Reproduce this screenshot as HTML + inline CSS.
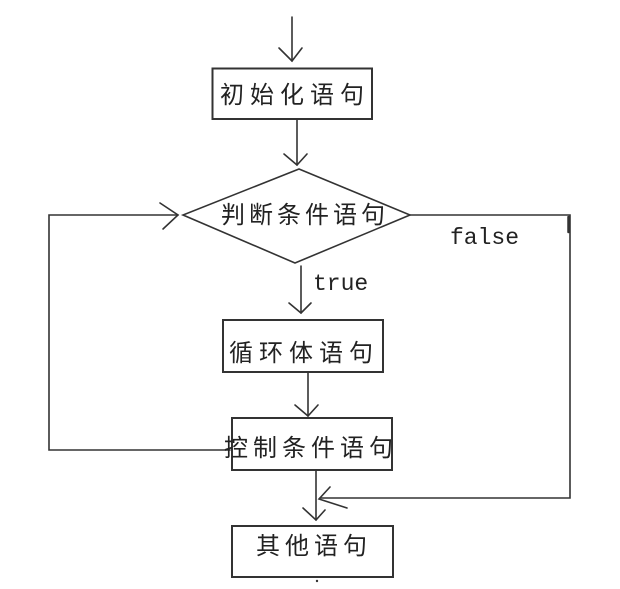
<!DOCTYPE html>
<html>
<head>
<meta charset="utf-8">
<style>
html,body{margin:0;padding:0;background:#fff;}
svg{display:block;}
.cjk{font-family:"Liberation Sans","Noto Sans CJK SC","WenQuanYi Zen Hei",sans-serif;font-size:24px;fill:#222;}
.mono{font-family:"Liberation Mono",monospace;font-size:23px;fill:#222;}
</style>
</head>
<body>
<svg width="620" height="589" viewBox="0 0 620 589" xmlns="http://www.w3.org/2000/svg">
<rect width="620" height="589" fill="#fff"/>
<g fill="none" stroke="#333" stroke-width="1.6" stroke-linecap="round" stroke-linejoin="miter">
  <!-- top arrow -->
  <line x1="292" y1="17" x2="292" y2="61"/>
  <polyline points="279,48 292,61 302,48"/>
  <!-- box 1 -->
  <rect x="212.5" y="68.5" width="159.5" height="50.5" stroke-width="2"/>
  <!-- arrow 2 -->
  <line x1="297" y1="120" x2="297" y2="165"/>
  <polyline points="284,154 297,165 307,154"/>
  <!-- diamond -->
  <polygon points="299,169 410,215 295,263 183,215"/>
  <!-- left loop -->
  <polyline points="230,450 49,450 49,215 178,215"/>
  <polyline points="160,203 178,215 163,229"/>
  <!-- true arrow -->
  <line x1="301" y1="266" x2="301" y2="313"/>
  <polyline points="289,303 301,313 311,303"/>
  <!-- box 3 -->
  <rect x="223" y="320" width="160" height="52" stroke-width="2"/>
  <!-- arrow to control -->
  <line x1="308" y1="372" x2="308" y2="416"/>
  <polyline points="295,405 308,416 318,405"/>
  <!-- control box -->
  <rect x="232" y="418" width="160" height="52" stroke-width="2"/>
  <!-- arrow to other -->
  <line x1="316" y1="470" x2="316" y2="520"/>
  <polyline points="303,508 316,520 325,510"/>
  <!-- false path -->
  <polyline points="410,215 570,215 570,498 320,498"/>
  <line x1="568.5" y1="217" x2="568.5" y2="232" stroke-width="2.5"/>
  <polyline points="330,487 319,499 347,508"/>
  <!-- other box -->
  <rect x="232" y="526" width="161" height="51" stroke-width="2"/>
</g>
<circle cx="317" cy="581" r="1.2" fill="#333"/>
<text class="cjk" x="220 250 280 310 340" y="103">初始化语句</text>
<text class="cjk" x="221 249 277 305 333 361" y="223">判断条件语句</text>
<text class="cjk" x="229 259 289 319 349" y="361">循环体语句</text>
<text class="cjk" x="224 253 282 311 340 369" y="456">控制条件语句</text>
<text class="cjk" x="256 285 314 343" y="554">其他语句</text>
<text class="mono" x="313" y="290">true</text>
<text class="mono" x="450" y="244">false</text>
</svg>
</body>
</html>
